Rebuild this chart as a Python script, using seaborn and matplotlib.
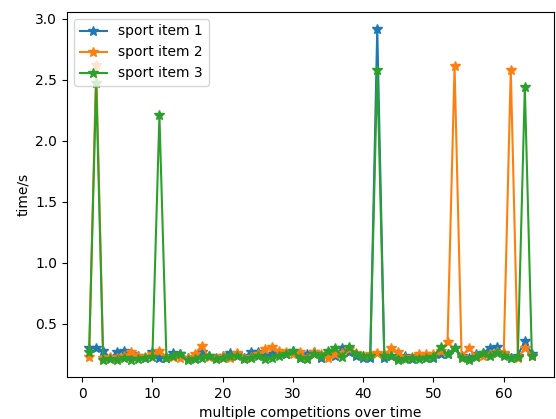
import matplotlib
matplotlib.use("Agg")
import matplotlib.pyplot as plt
import numpy as np
import pandas as pd
import seaborn as sns

competitions = list(range(1, 65))

sport_item_1 = [
    0.30, 0.30, 0.28, 0.22, 0.27, 0.28, 0.25, 0.24, 0.22, 0.27,
    0.22, 0.22, 0.26, 0.25, 0.22, 0.22, 0.27, 0.24, 0.22, 0.24,
    0.26, 0.25, 0.22, 0.27, 0.27, 0.24, 0.25, 0.26, 0.25, 0.28,
    0.22, 0.25, 0.27, 0.22, 0.25, 0.24, 0.30, 0.27, 0.24, 0.22,
    0.22, 2.92, 0.22, 0.24, 0.22, 0.24, 0.21, 0.24, 0.22, 0.22,
    0.25, 0.25, 0.30, 0.24, 0.22, 0.25, 0.26, 0.30, 0.31, 0.25,
    0.22, 0.24, 0.36, 0.25,
]

sport_item_2 = [
    0.23, 2.62, 0.22, 0.23, 0.22, 0.24, 0.27, 0.24, 0.23, 0.25,
    0.28, 0.23, 0.23, 0.22, 0.22, 0.25, 0.32, 0.23, 0.22, 0.24,
    0.22, 0.26, 0.22, 0.23, 0.25, 0.29, 0.31, 0.28, 0.27, 0.25,
    0.27, 0.22, 0.27, 0.25, 0.22, 0.25, 0.26, 0.29, 0.26, 0.24,
    0.25, 0.26, 0.25, 0.30, 0.27, 0.22, 0.23, 0.25, 0.25, 0.25,
    0.28, 0.35, 2.61, 0.23, 0.30, 0.24, 0.24, 0.25, 0.27, 0.26,
    2.58, 0.22, 0.30, 0.24,
]

sport_item_3 = [
    0.27, 2.47, 0.20, 0.21, 0.20, 0.22, 0.20, 0.21, 0.22, 0.23,
    2.21, 0.22, 0.24, 0.25, 0.20, 0.21, 0.22, 0.24, 0.21, 0.22,
    0.24, 0.24, 0.21, 0.22, 0.24, 0.21, 0.22, 0.24, 0.25, 0.28,
    0.22, 0.21, 0.25, 0.24, 0.28, 0.30, 0.23, 0.31, 0.25, 0.24,
    0.24, 2.58, 0.24, 0.24, 0.20, 0.21, 0.22, 0.21, 0.22, 0.23,
    0.31, 0.25, 0.30, 0.22, 0.20, 0.23, 0.26, 0.24, 0.26, 0.24,
    0.22, 0.23, 2.44, 0.24,
]

series_names = ["sport item 1", "sport item 2", "sport item 3"]
series_values = [sport_item_1, sport_item_2, sport_item_3]
colors = ["#1f77b4", "#ff7f0e", "#2ca02c"]

fig = plt.figure(figsize=(5.56, 4.19), dpi=100)
ax = fig.add_axes([67 / 556, 1 - 377 / 419, 487 / 556, 365 / 419])

for name, values, color in zip(series_names, series_values, colors):
    df = pd.DataFrame({"competition": competitions, "time": values})
    sns.lineplot(
        data=df, x="competition", y="time", ax=ax,
        color=color, marker="*", markersize=7,
        markeredgecolor=color, markeredgewidth=1,
        linewidth=1.5, label=name,
    )

ax.set_xlabel("multiple competitions over time")
ax.set_ylabel("time/s")
ax.legend(loc="upper left")

fig.savefig("out.png", dpi=100)
